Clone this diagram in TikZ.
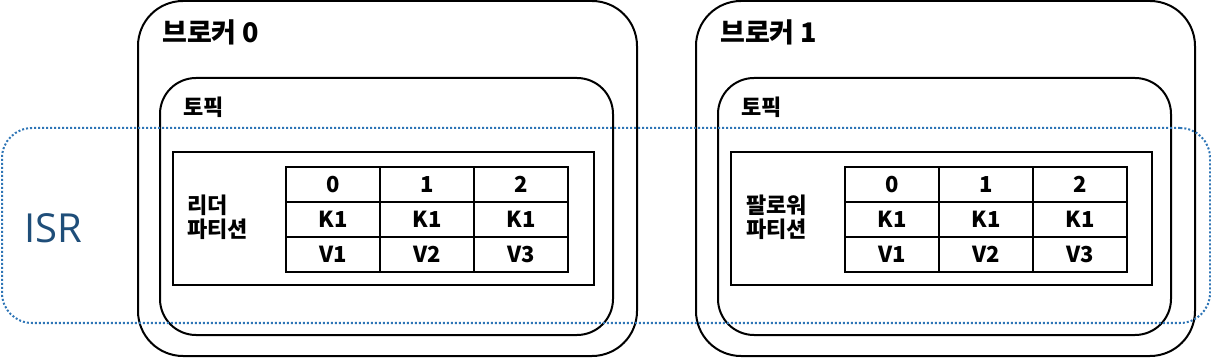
\documentclass[tikz,border=0pt]{standalone}
\usepackage{fontspec}
\setmainfont{Noto Sans CJK KR}
\newfontfamily\isrfont{Open Sans}
\definecolor{isrline}{HTML}{2E75B6}
\definecolor{isrtext}{HTML}{1F4E79}
\begin{document}
\begin{tikzpicture}[x=1pt,y=-1pt,
  boxline/.style={draw=black,line width=2pt,inner sep=0pt,outer sep=0pt,anchor=north west},
  brokerbox/.style={boxline,rounded corners=45pt,minimum width=499pt,minimum height=355pt},
  topicbox/.style={boxline,rounded corners=36pt,minimum width=453pt,minimum height=257pt},
  partbox/.style={boxline,minimum width=421pt,minimum height=133pt},
  cellbox/.style={boxline,minimum width=94pt,minimum height=35pt,font=\bfseries\fontsize{22}{24}\selectfont},
  titletext/.style={anchor=west,inner sep=0pt,font=\bfseries\fontsize{27}{30}\selectfont},
  topictext/.style={anchor=west,inner sep=0pt,font=\bfseries\fontsize{22}{26}\selectfont},
  parttext/.style={anchor=west,inner sep=0pt,align=left,font=\bfseries\fontsize{22}{24}\selectfont}]
\useasboundingbox (0,0) rectangle (1211,358);
% broker 0
\node[brokerbox] (b0) at (138,1) {};
\node[titletext] (b0t) at (162,32) {브로커 0};
\node[topicbox] (t0) at (160,78) {};
\node[topictext] (t0t) at (183,107) {토픽};
\node[partbox] (p0) at (173,152) {};
\node[parttext] (p0t) at (187,217) {리더\\파티션};
% broker 1
\node[brokerbox] (b1) at (696,1) {};
\node[titletext] (b1t) at (720,32) {브로커 1};
\node[topicbox] (t1) at (718,78) {};
\node[topictext] (t1t) at (741,107) {토픽};
\node[partbox] (p1) at (731,152) {};
\node[parttext] (p1t) at (746,217) {팔로워\\파티션};
% tables
\foreach \b/\x in {0/286,1/845}{
  \foreach \c/\h/\v [count=\i from 0] in {0/K1/V1,1/K1/V2,2/K1/V3}{
    \node[cellbox] (h\b\i) at ({\x+94*\i},167) {\c};
    \node[cellbox] (k\b\i) at ({\x+94*\i},202) {\h};
    \node[cellbox] (v\b\i) at ({\x+94*\i},237) {\v};
  }
}
% ISR
\node[draw=isrline,line width=2pt,dash pattern=on 2pt off 2pt,rounded corners=30pt,
  minimum width=1208pt,minimum height=195pt,anchor=north west,inner sep=0pt] (isr) at (1,127) {};
\node[anchor=west,inner sep=0pt,text=isrtext,font=\isrfont\fontsize{40}{42}\selectfont] (isrt) at (24,228) {ISR};
\end{tikzpicture}
\end{document}
